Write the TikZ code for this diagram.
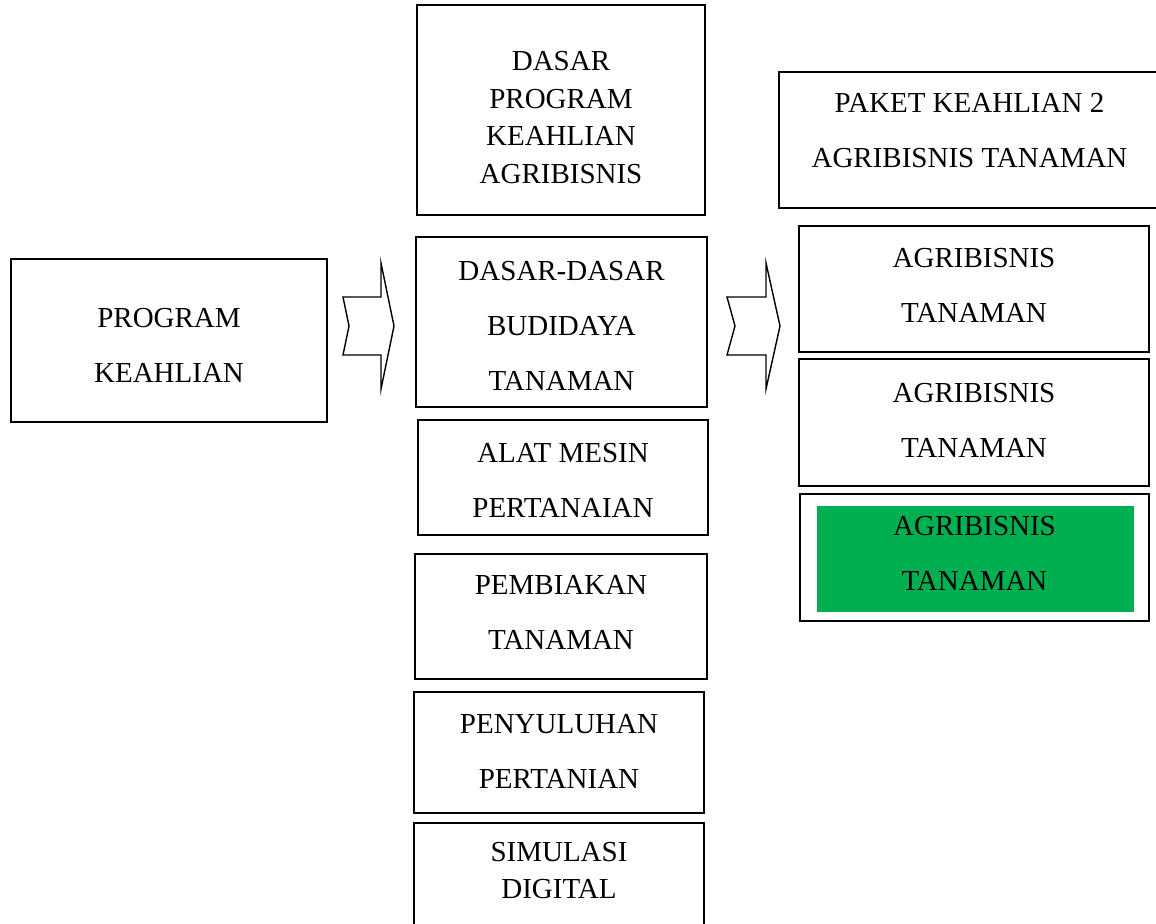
\documentclass[tikz,border=0pt]{standalone}
\usepackage{fontspec}
\setmainfont{Liberation Serif}
\usetikzlibrary{positioning}
\definecolor{agrigreen}{HTML}{00B050}

\begin{document}
\begin{tikzpicture}[
		% Picture Styling
		x=0.5pt, y=-0.5pt,
		box/.style={draw, line width=0.7pt, inner sep=0pt},
		doubletxt/.style={align=center, inner sep=0pt, font=\fontsize{14.5}{27.5}\selectfont},
		singletxt/.style={align=center, inner sep=0pt, font=\fontsize{14.5}{18.8}\selectfont},
		chevron/.style={draw, line width=0.7pt, fill=white, line join=miter}
	]
	\useasboundingbox (0,0) rectangle (1156,923);
	\clip (0,0) rectangle (1156,923);
	% Program Keahlian
	\node[box, minimum width=158pt, minimum height=81.5pt] (program) at (169,340.5) {};
	\node[doubletxt] (programtxt) at (169,345.5) {PROGRAM\\KEAHLIAN};
	% Kolom Tengah
	\node[box, minimum width=144pt, minimum height=105pt] (dasar) at (561,110) {};
	\node[singletxt] (dasartxt) at (561,117.5) {DASAR\\PROGRAM\\KEAHLIAN\\AGRIBISNIS};
	\node[box, minimum width=145.5pt, minimum height=85pt] (budidaya) at (561.5,322) {};
	\node[doubletxt] (budidayatxt) at (561.5,325.5) {DASAR-DASAR\\BUDIDAYA\\TANAMAN};
	\node[box, minimum width=145pt, minimum height=57.5pt] (alsin) at (563,477.5) {};
	\node[doubletxt] (alsintxt) at (563,480) {ALAT MESIN\\PERTANAIAN};
	\node[box, minimum width=146pt, minimum height=62.5pt] (pembiakan) at (561,616.5) {};
	\node[doubletxt] (pembiakantxt) at (561,612) {PEMBIAKAN\\TANAMAN};
	\node[box, minimum width=145pt, minimum height=60.5pt] (penyuluhan) at (559,752.5) {};
	\node[doubletxt] (penyuluhantxt) at (559,751.5) {PENYULUHAN\\PERTANIAN};
	\node[box, minimum width=145pt, minimum height=70pt] (simulasi) at (559,893) {};
	\node[singletxt] (simulasitxt) at (559,870.5) {SIMULASI\\DIGITAL};
	% Kolom Kanan
	\node[box, minimum width=190.5pt, minimum height=68pt] (paket) at (969.5,140) {};
	\node[doubletxt] (pakettxt) at (969.5,131) {PAKET KEAHLIAN 2\\AGRIBISNIS TANAMAN};
	\node[box, minimum width=175pt, minimum height=63pt] (agri1) at (974,289) {};
	\node[doubletxt] (agri1txt) at (974,285) {AGRIBISNIS\\TANAMAN};
	\node[box, minimum width=175pt, minimum height=63.5pt] (agri2) at (974,422.5) {};
	\node[doubletxt] (agri2txt) at (974,420) {AGRIBISNIS\\TANAMAN};
	\node[box, line width=1.1pt, minimum width=174.5pt, minimum height=63.5pt] (agri3) at (974.5,557.5) {};
	\node[fill=agrigreen, inner sep=0pt, minimum width=158.5pt, minimum height=53pt] (agri3fill) at (975.5,559) {};
	\node[doubletxt] (agri3txt) at (974.5,553.5) {AGRIBISNIS\\TANAMAN};
	% Panah
	\draw[chevron] (343,297) -- (381,297) -- (381,263) -- (394,326) -- (381,389) -- (381,355) -- (343,355) -- (349,326) -- cycle;
	\draw[chevron] (727,297) -- (766,297) -- (766,263) -- (780,326) -- (766,389) -- (766,355) -- (727,355) -- (735,326) -- cycle;
\end{tikzpicture}
\end{document}
